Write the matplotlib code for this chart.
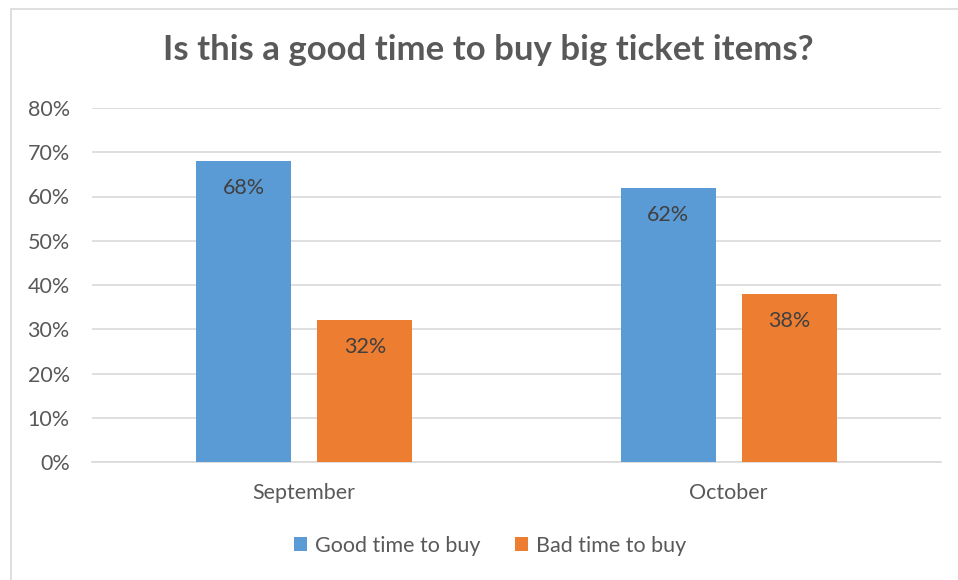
import matplotlib.pyplot as plt
from matplotlib.patches import Rectangle
import numpy as np

plt.rcParams['font.family'] = ['Lato', 'DejaVu Sans']

months = ['September', 'October']
good = [68, 62]
bad = [32, 38]
yticks = [0, 10, 20, 30, 40, 50, 60, 70, 80]

blue = '#5B9BD5'
orange = '#ED7D31'
txt = '#595959'
fs = 15.5

fig = plt.figure(figsize=(9.58, 5.8), dpi=100)
ax = fig.add_axes([92 / 958, 1 - 462 / 580, (941 - 92) / 958, (462 - 108) / 580])

# chart frame
fig.patches.append(Rectangle((11 / 958, -0.01), 1.0, 1 - 9 / 580 + 0.01,
                             transform=fig.transFigure, fill=False,
                             edgecolor='#D9D9D9', linewidth=1.2))

x = np.arange(len(months))
w = 0.224
off = 0.1425
b1 = ax.bar(x - off, good, w, color=blue, label='Good time to buy', zorder=3)
b2 = ax.bar(x + off, bad, w, color=orange, label='Bad time to buy', zorder=3)

for bars, vals in ((b1, good), (b2, bad)):
    for rect, v in zip(bars, vals):
        ax.text(rect.get_x() + rect.get_width() / 2, v - 6.1, f'{v}%',
                ha='center', va='center', fontsize=fs, color='#404040', zorder=4)

ax.set_xlim(-0.5, 1.5)
ax.set_ylim(0, 80)
ax.set_yticks(yticks)
ax.set_yticklabels([f'{t}%' for t in yticks])
ax.set_xticks(x)
ax.set_xticklabels(months)
ax.grid(axis='y', color='#D9D9D9', linewidth=1.2, zorder=0)
for s in ['top', 'right', 'left']:
    ax.spines[s].set_visible(False)
ax.spines['bottom'].set_color('#D9D9D9')
ax.spines['bottom'].set_linewidth(1.2)
ax.tick_params(length=0, labelsize=fs, colors=txt)
ax.tick_params(axis='y', pad=16)
ax.tick_params(axis='x', pad=15)

fig.text(488 / 958, 1 - 50 / 580, 'Is this a good time to buy big ticket items?',
         ha='center', va='center', fontsize=25, fontweight='bold', color=txt)

fig.legend(loc='center', bbox_to_anchor=(490 / 958, 1 - 546 / 580), ncol=2,
           frameon=False, fontsize=fs, labelcolor=txt, handlelength=0.62,
           handleheight=0.62, handletextpad=0.35, columnspacing=1.6)

fig.savefig('out.png', dpi=100)
